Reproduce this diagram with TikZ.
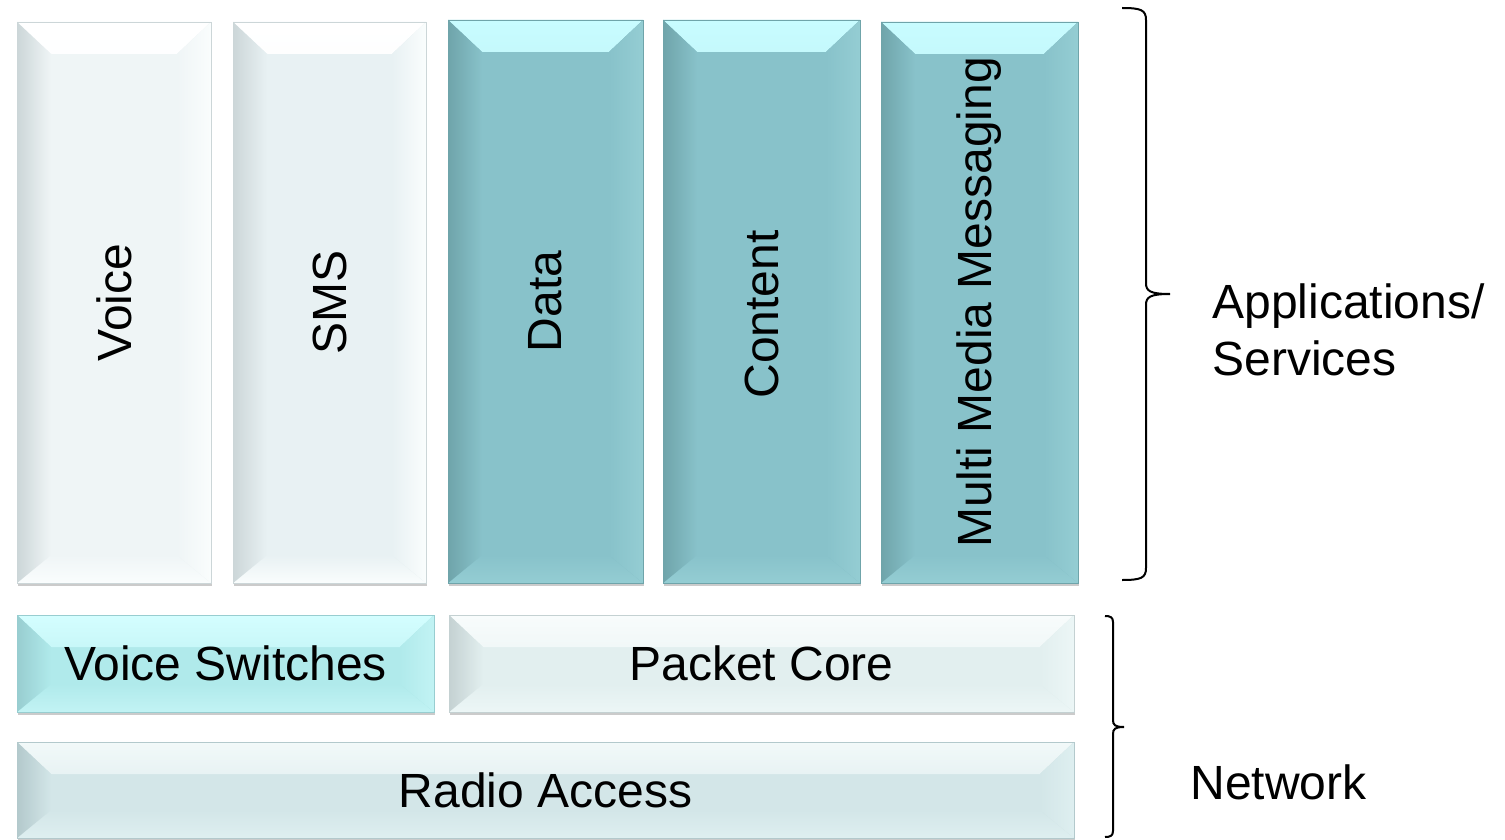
\documentclass[tikz,border=0pt]{standalone}
\usepackage{fontspec}
\setmainfont{Liberation Sans}
\usepackage{graphicx}
\usetikzlibrary{shadows}

\definecolor{tealmain}{HTML}{88C2CA}
\definecolor{tealtop}{HTML}{C8FCFF}
\definecolor{tealleft}{HTML}{6FA4AA}
\definecolor{tealright}{HTML}{94CDD3}
\definecolor{palemain}{HTML}{EFF5F6}
\definecolor{smsmain}{HTML}{E8F1F3}
\definecolor{paleleft}{HTML}{CCD6D8}
\definecolor{paleright}{HTML}{FAFDFD}
\definecolor{vsmain}{HTML}{B0EAEB}
\definecolor{vstop}{HTML}{D4FEFF}
\definecolor{vsleft}{HTML}{98CDD0}
\definecolor{vsright}{HTML}{C2F3F4}
\definecolor{pcmain}{HTML}{E2EFEF}
\definecolor{pctop}{HTML}{F8FCFC}
\definecolor{pcleft}{HTML}{C4D1D2}
\definecolor{pcright}{HTML}{ECF6F6}
\definecolor{ramain}{HTML}{D3E6E8}
\definecolor{ratop}{HTML}{F2F9F9}
\definecolor{raleft}{HTML}{B3C9CC}
\definecolor{raright}{HTML}{DEEFF0}

\tikzset{
  tile/.style n args={4}{draw=#3, line width=0.4pt, fill=#1, inner sep=0pt,
    drop shadow={shadow xshift=0.6pt, shadow yshift=-1.6pt, fill=black!45, opacity=0.45},
    path picture={
      \fill[top color=#2, bottom color=#1] (path picture bounding box.north west) -- (path picture bounding box.north east) -- ([shift={(-17pt,-16pt)}]path picture bounding box.north east) -- ([shift={(17pt,-16pt)}]path picture bounding box.north west) -- cycle;
      \fill[bottom color=#4, top color=#1] (path picture bounding box.south west) -- (path picture bounding box.south east) -- ([shift={(-17pt,14pt)}]path picture bounding box.south east) -- ([shift={(17pt,14pt)}]path picture bounding box.south west) -- cycle;
      \fill[left color=#3, right color=#1] (path picture bounding box.north west) -- ([shift={(17pt,-16pt)}]path picture bounding box.north west) -- ([shift={(17pt,14pt)}]path picture bounding box.south west) -- (path picture bounding box.south west) -- cycle;
      \fill[right color=#4, left color=#1] (path picture bounding box.north east) -- ([shift={(-17pt,-16pt)}]path picture bounding box.north east) -- ([shift={(-17pt,14pt)}]path picture bounding box.south east) -- (path picture bounding box.south east) -- cycle;
    }},
  label text/.style={font=\fontsize{24}{28.5}\selectfont, text=black},
  brace line/.style={draw=black, line width=1pt}
}

\begin{document}
\begin{tikzpicture}[x=0.5pt,y=0.5pt,yscale=-1]
\useasboundingbox (0,0) rectangle (1505,840);

%Bevel Tiles: applications
\node [tile={palemain}{white}{paleleft}{paleright}, minimum width=97pt, minimum height=280.5pt, label text] (voice) at (114,302.5) {\rotatebox{90}{Voice}};
\node [tile={smsmain}{white}{paleleft}{paleright}, minimum width=96.5pt, minimum height=280.5pt, label text] (sms) at (329.5,302.5) {\rotatebox{90}{SMS}};
\node [tile={tealmain}{tealtop}{tealleft}{tealright}, minimum width=97.5pt, minimum height=281.5pt, label text] (data) at (545.5,301.5) {\rotatebox{90}{Data}};
\node [tile={tealmain}{tealtop}{tealleft}{tealright}, minimum width=98.5pt, minimum height=281.5pt, label text] (content) at (761.5,301.5) {\rotatebox{90}{Content\hspace*{13pt}}};
\node [tile={tealmain}{tealtop}{tealleft}{tealright}, minimum width=98.5pt, minimum height=280.5pt, label text] (mms) at (979.5,302.5) {\rotatebox{90}{Multi Media Messaging}};

%Bevel Tiles: network
\node [tile={vsmain}{vstop}{vsleft}{vsright}, minimum width=208.5pt, minimum height=48.5pt, label text] (switches) at (225.5,663.5) {Voice Switches};
\node [tile={pcmain}{pctop}{pcleft}{pcright}, minimum width=312.5pt, minimum height=48.5pt, label text] (core) at (761.5,663.5) {Packet Core};
\node [tile={ramain}{ratop}{raleft}{raright}, minimum width=528.5pt, minimum height=48pt, label text] (radio) at (545.5,790) {Radio Access};

%Right Brace: applications
\coordinate (apptip) at (1170,294);
\draw [brace line] (1122,8) .. controls (1141,8) and (1146,10) .. (1146,20) -- (1146,283) .. controls (1146,291) and (1150,294) .. (apptip) .. controls (1150,294) and (1146,297) .. (1146,305) -- (1146,568) .. controls (1146,578) and (1141,580) .. (1122,580);
%Right Brace: network
\coordinate (nettip) at (1124,727);
\draw [brace line] (1105,616) .. controls (1110,616) and (1113,617) .. (1113,622) -- (1113,720) .. controls (1113,725) and (1115,727) .. (nettip) .. controls (1115,727) and (1113,729) .. (1113,734) -- (1113,831) .. controls (1113,836) and (1110,837) .. (1105,837);

% Text Node
\node [label text, anchor=west, align=left, inner sep=0pt] (apps) at (1212,330) {Applications/\\Services};
% Text Node
\node [label text, anchor=base west, inner sep=0pt] (net) at (1190,799) {Network};

\end{tikzpicture}
\end{document}
